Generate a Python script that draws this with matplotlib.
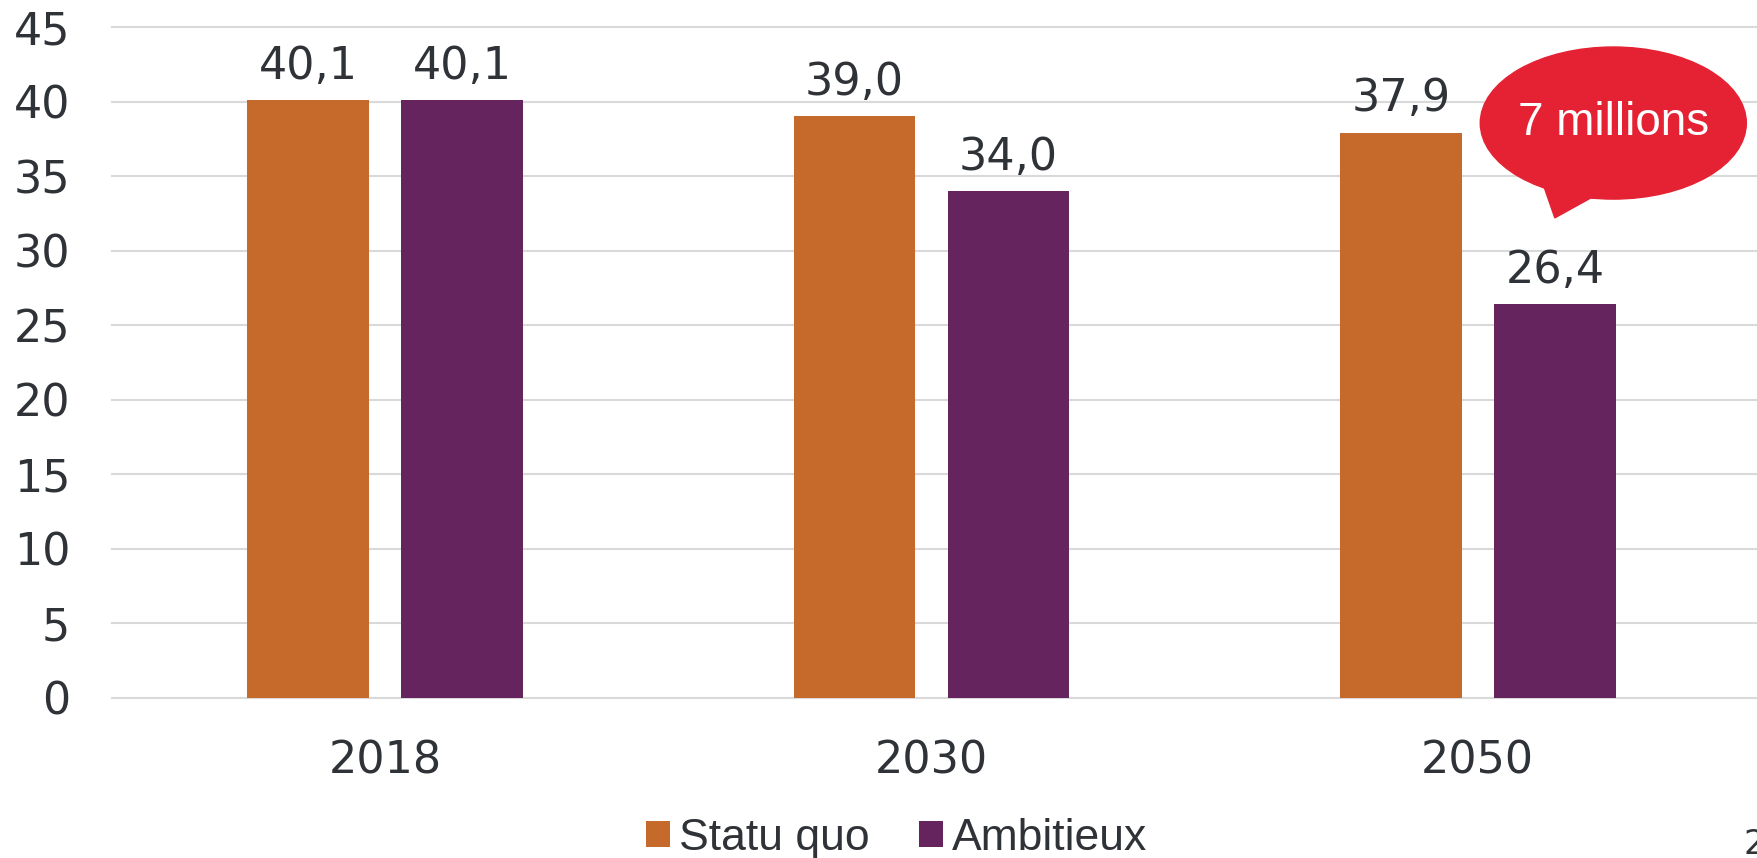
import matplotlib.pyplot as plt
import numpy as np
from matplotlib.patches import Ellipse, Polygon

years = ['2018', '2030', '2050']
statu_quo = [40.1, 39.0, 37.9]
ambitieux = [40.1, 34.0, 26.4]
series_names = ['Statu quo', 'Ambitieux']
bubble_text = '7 millions'

orange = '#C66A2C'
purple = '#66245E'
red = '#E52233'
dark = '#2F3237'
grid = '#D9D9D9'


def fmt(v):
    return f'{v:.1f}'.replace('.', ',')


def run():
    fig = plt.figure(figsize=(17.58, 8.58), dpi=100)
    ax = fig.add_axes([0.0637, 0.1865, 0.9323, 0.782])

    x = np.arange(len(years))
    w = 0.223
    off = 0.141
    b1 = ax.bar(x - off, statu_quo, w, color=orange, label=series_names[0], zorder=3)
    b2 = ax.bar(x + off, ambitieux, w, color=purple, label=series_names[1], zorder=3)

    # value labels above each bar
    for bars, vals in ((b1, statu_quo), (b2, ambitieux)):
        for r, v in zip(bars, vals):
            ax.annotate(fmt(v), (r.get_x() + r.get_width() / 2, v),
                        xytext=(0, 9), textcoords='offset points',
                        ha='center', va='bottom', fontsize=32, color=dark)

    ax.set_xlim(-0.5, len(years) - 0.5)
    ax.set_ylim(0, 45)
    ax.set_yticks(np.arange(0, 46, 5))
    ax.set_xticks(x)
    ax.set_xticklabels(years)
    # gridlines run a little past the axes, to the page edge
    for yv in ax.get_yticks():
        ax.plot([-0.5, 2.52], [yv, yv], color=grid, lw=1.5, zorder=0, clip_on=False)
    for s in ax.spines.values():
        s.set_visible(False)
    ax.tick_params(axis='both', length=0, labelsize=32, labelcolor=dark)
    ax.tick_params(axis='y', pad=30)
    ax.tick_params(axis='x', pad=30)

    # speech bubble near 2050
    ell = Ellipse((2.248, 38.56), 0.487, 10.2, color=red, zorder=5, clip_on=False)
    ax.add_patch(ell)
    tail = Polygon([(2.122, 34.2), (2.210, 33.6), (2.141, 32.2)], closed=True,
                   color=red, zorder=5, clip_on=False)
    ax.add_patch(tail)
    ax.text(2.248, 38.56, bubble_text, ha='center', va='center', fontsize=33,
            color='white', family=['Liberation Sans', 'DejaVu Sans'], zorder=6)

    fig.legend(handles=[b1, b2], loc='center', bbox_to_anchor=(0.510, 0.023),
               ncol=2, frameon=False, handlelength=0.55, handleheight=0.55,
               handletextpad=0.2, columnspacing=1.1,
               prop={'family': ['Liberation Sans', 'DejaVu Sans'], 'size': 32},
               labelcolor=dark)

    # page number cut at the corner
    fig.text(0.992, -0.003, '2', fontsize=24, color=dark, ha='left', va='bottom')

    fig.savefig('out.png', dpi=100)


if __name__ == '__main__':
    run()
